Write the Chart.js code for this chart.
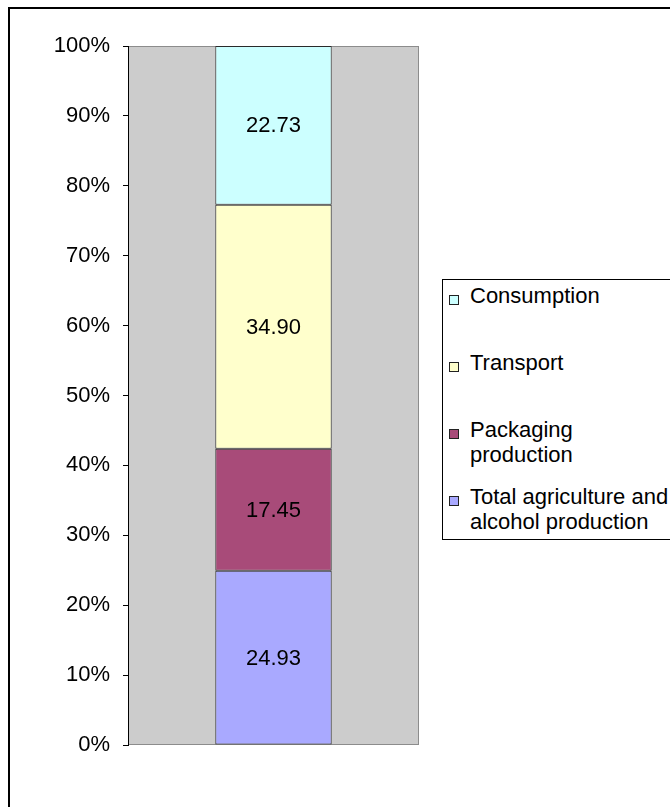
<!DOCTYPE html>
<html>
<head>
<meta charset="utf-8">
<script src="https://cdn.jsdelivr.net/npm/chart.js@4/dist/chart.umd.min.js"></script>
<style>
  html, body { margin: 0; padding: 0; background: #fff; }
  #wrap { position: relative; width: 670px; height: 807px; overflow: hidden; }
  #frame { position: absolute; left: 8px; top: 7px; width: 800px; height: 900px;
           border-left: 2px solid #000; border-top: 2px solid #000; box-sizing: border-box; }
  #c { position: absolute; left: 0; top: 0; }
  #legend { position: absolute; left: 442px; top: 279px; width: 260px; height: 261px;
            border: 1px solid #000; box-sizing: border-box; background: #fff;
            font-family: "Liberation Sans", Arial, sans-serif; font-size: 22px; color: #000; }
  .item { position: absolute; left: 27px; line-height: 25px; white-space: nowrap; }
  .sw { position: absolute; left: -21px; top: 12px; width: 8px; height: 8px;
        border: 1px solid #222; box-sizing: content-box; }
</style>
</head>
<body>
<div id="wrap">
  <div id="frame"></div>
  <canvas id="c" width="670" height="807"></canvas>
  <div id="legend"></div>
</div>
<script>
// ---- data ----
const categories = [''];
const seriesNames = ['Total agriculture and alcohol production', 'Packaging production', 'Transport', 'Consumption'];
const legendLines = [['Total agriculture and', 'alcohol production'], ['Packaging', 'production'], ['Transport'], ['Consumption']];
const agriculture = [24.93];
const packaging = [17.45];
const transport = [34.90];
const consumption = [22.73];
const yTicks = [0, 10, 20, 30, 40, 50, 60, 70, 80, 90, 100];
const colors = ['#A9A9FF', '#A84B79', '#FFFFCC', '#CCFFFF'];

const seriesValues = [agriculture, packaging, transport, consumption];
const FONT = '"Liberation Sans", Arial, sans-serif';

const plotBg = {
  id: 'plotBg',
  beforeDraw(chart) {
    const a = chart.chartArea, ctx = chart.ctx;
    ctx.save();
    ctx.fillStyle = '#CCCCCC';
    ctx.fillRect(a.left, a.top, a.right - a.left, a.bottom - a.top);
    ctx.strokeStyle = '#8C8C8C';
    ctx.lineWidth = 1;
    ctx.strokeRect(a.left + 0.5, a.top + 0.5, a.right - a.left - 1, a.bottom - a.top - 1);
    ctx.restore();
  }
};

const valueLabels = {
  id: 'valueLabels',
  afterDatasetsDraw(chart) {
    const ctx = chart.ctx;
    ctx.save();
    ctx.font = '22px ' + FONT;
    ctx.fillStyle = '#000';
    ctx.textAlign = 'center';
    ctx.textBaseline = 'middle';
    chart.data.datasets.forEach((ds, i) => {
      chart.getDatasetMeta(i).data.forEach((bar, j) => {
        const v = ds.data[j];
        const y = (bar.y + bar.base) / 2;
        ctx.fillText(v.toFixed(2), bar.x, y + 1);
      });
    });
    ctx.restore();
  }
};

const chart = new Chart(document.getElementById('c'), {
  type: 'bar',
  data: {
    labels: categories,
    datasets: seriesNames.map((n, i) => ({
      label: n,
      data: seriesValues[i],
      backgroundColor: colors[i],
      borderColor: '#2a2a2a',
      borderWidth: 1,
      borderSkipped: false,
      categoryPercentage: 1,
      barPercentage: 0.4
    }))
  },
  options: {
    responsive: false,
    animation: false,
    devicePixelRatio: 1,
    layout: { padding: { left: 0, top: 46, right: 251, bottom: 62 } },
    plugins: { legend: { display: false }, tooltip: { enabled: false } },
    scales: {
      x: { stacked: true, display: false },
      y: {
        stacked: true,
        min: 0, max: 100,
        afterFit(scale) { scale.width = 128; },
        afterBuildTicks(scale) { scale.ticks = yTicks.map(v => ({ value: v })); },
        ticks: {
          font: { family: FONT, size: 22 },
          color: '#000',
          padding: 13,
          callback: v => v + '%'
        },
        grid: { drawOnChartArea: false, drawTicks: true, tickLength: 5, color: '#000', tickColor: '#000' },
        border: { display: true, color: '#000', width: 1 }
      }
    }
  },
  plugins: [plotBg, valueLabels]
});

// HTML legend (reverse order, like the stack)
const legend = document.getElementById('legend');
for (let k = 0; k < seriesNames.length; k++) {
  const i = seriesNames.length - 1 - k;
  const it = document.createElement('div');
  it.className = 'item';
  it.style.top = (3 + k * 67) + 'px';
  const sw = document.createElement('span');
  sw.className = 'sw';
  sw.style.background = colors[i];
  it.appendChild(sw);
  legendLines[i].forEach((line, li) => {
    if (li) it.appendChild(document.createElement('br'));
    it.appendChild(document.createTextNode(line));
  });
  legend.appendChild(it);
}
</script>
</body>
</html>
